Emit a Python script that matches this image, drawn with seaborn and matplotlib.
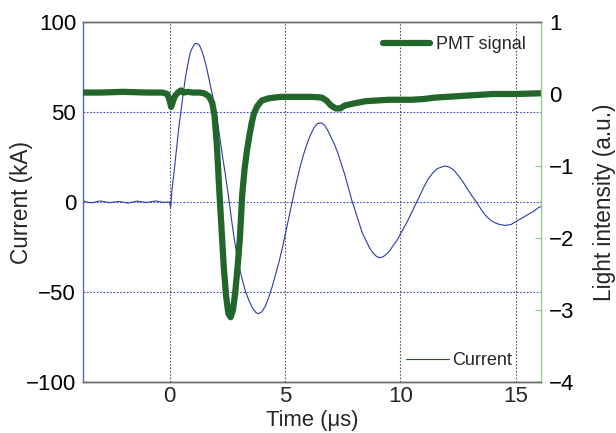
import numpy as np
import pandas as pd
import matplotlib
matplotlib.use("Agg")
import matplotlib.pyplot as plt
import seaborn as sns

# ---- data ----
cur_t = [-3.75, -3.4, -3.0, -2.6, -2.2, -1.8, -1.4, -1.0, -0.6, -0.3, 0.0, 0.05, 0.1, 0.2, 0.3, 0.4,
         0.5, 0.6, 0.7, 0.8, 0.9, 1.0, 1.1, 1.2, 1.3, 1.4, 1.5, 1.6, 1.7, 1.8, 1.9, 2.0,
         2.1, 2.2, 2.3, 2.4, 2.5, 2.6, 2.7, 2.8, 2.9, 3.0, 3.15, 3.3, 3.45, 3.6, 3.75, 3.85,
         4.0, 4.15, 4.3, 4.45, 4.6, 4.75, 4.9, 5.05, 5.2, 5.35, 5.5, 5.65, 5.8, 5.95, 6.1,
         6.25, 6.4, 6.55, 6.7, 6.85, 7.0, 7.15, 7.3, 7.45, 7.6, 7.75, 7.9, 8.05, 8.2, 8.35,
         8.5, 8.65, 8.8, 8.95, 9.1, 9.25, 9.4, 9.55, 9.7, 9.85, 10.0, 10.15, 10.3, 10.45,
         10.6, 10.75, 10.9, 11.05, 11.2, 11.4, 11.6, 11.8, 11.95, 12.1, 12.3, 12.5, 12.7,
         12.9, 13.1, 13.3, 13.5, 13.7, 13.9, 14.1, 14.3, 14.55, 14.8, 15.0, 15.2, 15.4,
         15.6, 15.8, 16.0, 16.1]
cur_kA = [0.5, -0.5, 0.6, -0.4, 0.3, -0.6, 0.5, -0.3, 0.6, -0.2, 0.0, -3.0, 6.0, 17.0, 29.0, 41.0,
          51.0, 61.0, 70.0, 77.0, 83.0, 86.0, 88.0, 88.0, 87.0, 84.0, 80.0, 75.0, 69.0, 63.0, 57.0, 51.0,
          43.0, 34.0, 25.0, 17.0, 8.0, -1.0, -11.0, -20.0, -28.0, -35.0, -43.0, -50.0, -55.0, -59.0, -61.5, -62.0,
          -61.0, -58.0, -53.0, -47.0, -40.0, -33.0, -25.0, -16.0, -7.0, 2.0, 11.0, 19.0, 26.0, 32.0, 37.0,
          41.0, 43.5, 44.0, 43.0, 40.0, 36.0, 32.0, 27.0, 21.0, 15.0, 8.0, 1.0, -5.0, -11.0, -17.0,
          -21.0, -25.0, -28.0, -30.0, -31.0, -30.5, -29.0, -27.0, -24.0, -21.5, -18.0, -14.5, -11.0, -7.0,
          -3.0, 1.0, 5.0, 9.0, 12.5, 16.0, 18.5, 19.5, 20.0, 19.5, 18.0, 15.0, 11.5,
          7.5, 3.5, 0.0, -4.0, -7.5, -10.0, -11.5, -12.5, -13.0, -12.5, -11.0, -9.5, -8.0,
          -6.5, -5.0, -3.0, -2.5]

pmt_t = [-3.75, -3.0, -2.0, -1.0, -0.3, -0.1, 0.0, 0.07, 0.15, 0.25, 0.4, 0.5, 0.6, 0.8, 1.0,
         1.3, 1.5, 1.7, 1.85, 1.95, 2.05, 2.15, 2.25, 2.35, 2.45, 2.55, 2.65, 2.75, 2.85, 2.95,
         3.05, 3.15, 3.25, 3.35, 3.45, 3.55, 3.65, 3.8, 4.0, 4.3, 4.8, 5.5, 6.2, 6.6, 6.8, 7.0,
         7.2, 7.4, 7.6, 8.0, 8.5, 9.0, 9.5, 10.0, 10.5, 11.0, 11.5, 12.0, 12.5, 13.0, 14.0,
         15.0, 16.1]
pmt_au = [0.02, 0.02, 0.03, 0.02, 0.02, 0.0, -0.08, -0.18, -0.1, -0.02, 0.03, 0.05, 0.02, 0.03, 0.02,
          0.02, 0.01, -0.03, -0.12, -0.3, -0.7, -1.3, -1.85, -2.4, -2.8, -3.05, -3.1, -3.0, -2.75, -2.4,
          -2.0, -1.4, -1.05, -0.8, -0.6, -0.42, -0.28, -0.17, -0.09, -0.06, -0.04, -0.04, -0.04, -0.05, -0.09, -0.16,
          -0.2, -0.2, -0.16, -0.13, -0.1, -0.09, -0.08, -0.08, -0.08, -0.07, -0.05, -0.04, -0.03, -0.02, 0.0,
          0.0, 0.01]

x_ticks = [0, 5, 10, 15]
y_left_ticks = [-100, -50, 0, 50, 100]
y_right_ticks = [-4, -3, -2, -1, 0, 1]

df_cur = pd.DataFrame({"t": cur_t, "I": cur_kA})
df_pmt = pd.DataFrame({"t": pmt_t, "L": pmt_au})

sns.set_style("white")
plt.rcParams["font.family"] = ["Liberation Sans", "DejaVu Sans"]

BLUE = "#2b3aa8"
GREEN = "#22662c"

fig = plt.figure(figsize=(6.16, 4.33), dpi=100)
ax = fig.add_axes([83/616, 1 - 382/433, (541 - 83)/616, (382 - 22)/433])
ax2 = ax.twinx()

sns.lineplot(data=df_cur, x="t", y="I", ax=ax, color=BLUE, linewidth=0.8,
             label="Current", legend=False)
sns.lineplot(data=df_pmt, x="t", y="L", ax=ax2, color=GREEN, linewidth=4.5,
             label="PMT signal", legend=False)

ax.set_xlim(-3.75, 16.1)
ax.set_ylim(-100, 100)
ax2.set_ylim(-4, 1)
ax.set_xticks(x_ticks)
ax.set_yticks(y_left_ticks)
ax2.set_yticks(y_right_ticks)

# grid lines
for v in [-50, 0, 50]:
    ax.axhline(v, color="#3a4bb0", linestyle=(0, (1.5, 1.5)), linewidth=0.8, zorder=0)
for v in x_ticks:
    ax.axvline(v, color="#555555", linestyle=(0, (1.5, 1.5)), linewidth=0.8, zorder=0)

ax.set_xlabel("Time (\u03bcs)", fontsize=15.8)
ax.set_ylabel("Current (kA)", fontsize=16.3)
ax2.set_ylabel("Light intensity (a.u.)", fontsize=16.3)
ax.xaxis.set_label_coords(0.5, -0.077)
ax.yaxis.set_label_coords(-0.109, 0.5)
ax2.yaxis.set_label_coords(1.113, 0.5)

ax.tick_params(axis="both", labelsize=16, direction="in", length=3, pad=3)
ax.tick_params(axis="y", colors="#4455bb", labelcolor="black", length=0, pad=5)
ax.tick_params(axis="x", length=0)
ax2.tick_params(axis="y", labelsize=16, direction="in", length=4, colors="#88c888",
                labelcolor="black", pad=6)

for a in (ax, ax2):
    a.spines["top"].set_color("#666666")
    a.spines["bottom"].set_color("#666666")
    a.spines["left"].set_color("#5565c5")
    a.spines["right"].set_color("#90cc90")
    for s in a.spines.values():
        s.set_linewidth(1.0)
ax.spines["right"].set_visible(False)
ax2.spines["left"].set_visible(False)

ax2.legend(loc="upper right", bbox_to_anchor=(0.99, 0.99), frameon=False, fontsize=13,
           handlelength=2.6, handletextpad=0.3, borderaxespad=0.2)
ax.legend(loc="lower right", bbox_to_anchor=(0.965, 0.0), frameon=False, fontsize=13,
          handlelength=2.4, handletextpad=0.2, borderaxespad=0.3)

fig.savefig("out.png", dpi=100)
